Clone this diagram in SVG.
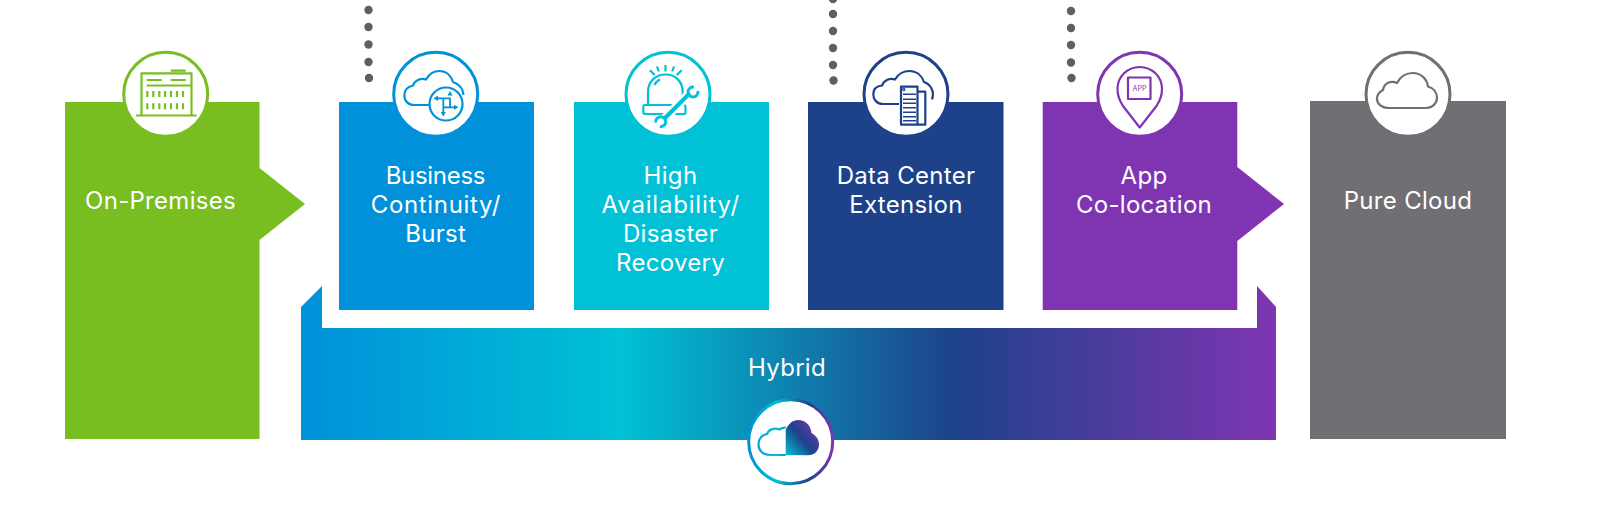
<svg xmlns="http://www.w3.org/2000/svg" width="1614" height="516" viewBox="0 0 1614 516">
<style>
.t{font-family:"Inter","Liberation Sans",sans-serif;font-size:24px;letter-spacing:.3px;fill:#fff;text-anchor:middle}
.c{fill:#fff;stroke-width:3}
.i{fill:none;stroke-width:2.2;stroke-linejoin:round}
.d{fill:#5f5f62}
</style>
<defs>
<linearGradient id="band" gradientUnits="userSpaceOnUse" x1="301" y1="0" x2="1276" y2="0">
<stop offset="0" stop-color="#0091da"/><stop offset=".33" stop-color="#00c1d5"/><stop offset=".67" stop-color="#1d428a"/><stop offset="1" stop-color="#7f35b2"/>
</linearGradient>
<linearGradient id="ring" gradientUnits="userSpaceOnUse" x1="748" y1="441" x2="834" y2="441">
<stop offset="0" stop-color="#0091da"/><stop offset=".33" stop-color="#00c1d5"/><stop offset=".7" stop-color="#1d428a"/><stop offset="1" stop-color="#7f35b2"/>
</linearGradient>
<linearGradient id="fillc" x1="0" y1="1" x2="1" y2="0.1">
<stop offset="0" stop-color="#00c1d5"/><stop offset=".5" stop-color="#1d428a"/><stop offset="1" stop-color="#7f35b2"/>
</linearGradient>
</defs>
<g id="connectors">
<g class="d"><circle cx="368.5" cy="10" r="4.2"/><circle cx="368.5" cy="27" r="4.2"/><circle cx="368.5" cy="44.5" r="4.2"/><circle cx="368.5" cy="62" r="4.2"/><circle cx="369" cy="78" r="4.2"/></g>
<g class="d"><circle cx="833" cy="-1" r="4.2"/><circle cx="833" cy="14" r="4.2"/><circle cx="833" cy="31" r="4.2"/><circle cx="833" cy="48" r="4.2"/><circle cx="833" cy="65" r="4.2"/><circle cx="833.5" cy="80.5" r="4.2"/></g>
<g class="d"><circle cx="1071" cy="11" r="4.2"/><circle cx="1071" cy="28" r="4.2"/><circle cx="1071" cy="45" r="4.2"/><circle cx="1071" cy="62.5" r="4.2"/><circle cx="1071.5" cy="78" r="4.2"/></g>
</g>
<g id="hybrid">
<path d="M301 307L322 286V328H1257V286L1276 307V440H301Z" fill="url(#band)"/>
<text class="t" x="787" y="376">Hybrid</text>
<circle cx="790.7" cy="441.7" r="42" stroke="url(#ring)" class="c"/>
<path d="M785.7 455H770C763 455 758.5 450.5 758.5 444.5C758.5 439 762 435 767 434C769 429 775 427.5 779.5 429.5C781.5 428 783.5 427.5 785.7 427.5" fill="none" stroke="url(#ring)" stroke-width="2.2"/>
<path d="M785.7 455V430C788 424 793 420 798 420C806 420 811 426 811.5 433C816 435.5 819 439.5 819 444.5C819 450.5 814.5 455.3 808 455.3Z" fill="url(#fillc)"/>
</g>
<g id="on-premises">
<path d="M65 102H259.5V168L305 204L259.5 240V439H65Z" fill="#78be20"/>
<circle cx="165.7" cy="94.3" r="42" stroke="#78be20" class="c"/>
<g class="i" stroke="#78be20">
<path d="M141.5 115V73.3H191.5V115M136 115.5H196.5M170.7 70.7H185.7M146.7 80H161.7M170.7 80H185.7M146.7 85.5H191"/>
<path d="M147.3 91V97M153.3 91V97M159.3 91V97M165 91V97M171 91V97M177 91V97M183 91V97M147.3 103.3V109.3M153.3 103.3V109.3M159.3 103.3V109.3M165 103.3V109.3M171 103.3V109.3M177 103.3V109.3M183 103.3V109.3"/>
</g>
<text class="t" x="160.5" y="209">On-Premises</text>
</g>
<g id="business-continuity">
<rect x="339" y="102" width="195" height="208" fill="#0091da"/>
<circle cx="435.7" cy="94.3" r="42" stroke="#0091da" class="c"/>
<g class="i" stroke="#0091da">
<path d="M430 105H414C408 105 404.3 100.5 404.3 95.5C404.3 90 408 86.5 413 85.5C415 80 421 77.5 426 79.5C429 74 434 71 439.5 71C446 71 451 75.5 453 82C459 84 463 88.5 463.5 95"/>
<circle cx="446" cy="104" r="16.5"/>
<path d="M436 98.3H450V108M443.3 98.3V113M443.3 107.300H456" stroke-width="1.8"/>
<path d="M433.5 98.3L438 95.5V101ZM450 91L447.5 95.5H452.5ZM443.3 116.500L440.8 112H445.8ZM458.5 107.3L454 104.8V109.8Z" fill="#0091da" stroke="none"/>
</g>
<text class="t" x="435.7" y="184" textLength="100">Business</text>
<text class="t" x="435.7" y="213" textLength="130">Continuity/</text>
<text class="t" x="435.700" y="242">Burst</text>
</g>
<g id="high-availability">
<rect x="574" y="102" width="195" height="208" fill="#00c1d5"/>
<circle cx="668" cy="94.3" r="42" stroke="#00c1d5" class="c"/>
<g class="i" stroke="#00c1d5">
<path d="M648 105V92C648 81 656 74.5 665.5 74.5C675 74.5 682.7 81 682.7 92V99"/>
<path d="M654.5 85C655.5 82.500 657.500 80.500 660 79.500M665.5 65V71.5M657 66.500L658.8 71.500M674 66.5L672.2 71.5M649.8 70.3L654.8 75M681.7 70.3L676.7 75"/>
<path d="M684 105H645Q643.3 105 643.3 107V112Q643.3 114 645 114H684Q685.5 114 685.5 112V107Q685.5 105 684 105Z"/>
</g>
<path d="M664 119L691 92" fill="none" stroke="#fff" stroke-width="9"/>
<g fill="none" stroke="#00c1d5">
<path d="M664 119L690 93" stroke-width="4"/>
<path d="M693.9 87.1A5 5 0 1 0 697.9 91.1" stroke-width="3"/>
<path d="M659.8 126.6A5 5 0 1 0 655.8 122.6" stroke-width="3"/>
</g>
<text class="t" x="670.5" y="184">High</text>
<text class="t" x="670.5" y="213" textLength="138">Availability/</text>
<text class="t" x="670.5" y="242">Disaster</text>
<text class="t" x="670.5" y="271">Recovery</text>
</g>
<g id="data-center">
<rect x="808" y="102" width="195.5" height="208" fill="#1d428a"/>
<circle cx="906" cy="94.3" r="42" stroke="#1d428a" class="c"/>
<g class="i" stroke="#1d428a">
<path d="M899 104H883C877 104 873.3 99.5 873.3 94.5C873.3 89 877 86 882 85.5C884 80 890 77.5 895 79.5C898 74 904 71 909.5 71C917 71 922 76 924 82C930 84 935 91 932 99.5"/>
<rect x="901" y="86.7" width="16.5" height="38"/>
<path d="M917.5 91.7H925.3V124.7H917.5"/>
<path d="M903 94.3H916M903 99.3H916M903 103.3H916M903 107.7H916M903 112.3H916M903 116.7H916M903 120.7H916" stroke-width="1.5"/>
<circle cx="903.8" cy="89.5" r=".6"/>
</g>
<text class="t" x="906" y="184">Data Center</text>
<text class="t" x="906" y="213">Extension</text>
</g>
<g id="app-co-location">
<path d="M1042.7 102H1237.3V167L1284 204L1237.3 241V310H1042.7Z" fill="#7f35b2"/>
<circle cx="1139.7" cy="94.3" r="42" stroke="#7f35b2" class="c"/>
<g class="i" stroke="#7f35b2">
<path d="M1139.7 127.5L1123 106C1119 100 1117.5 95 1117.5 89C1117.5 76.5 1127.5 67 1139.7 67C1152 67 1162 76.5 1162 89C1162 95 1160.5 100 1156.5 106Z"/>
<rect x="1128" y="77.5" width="22.5" height="21.5"/>
</g>
<text x="1139.5" y="91" font-family="Inter,'Liberation Sans',sans-serif" font-size="7" text-anchor="middle" fill="#7f35b2">APP</text>
<text class="t" x="1144" y="184">App</text>
<text class="t" x="1144" y="213">Co-location</text>
</g>
<g id="pure-cloud">
<rect x="1310" y="101" width="196" height="338" fill="#707074"/>
<circle cx="1408" cy="94.3" r="42" stroke="#707074" class="c"/>
<path class="i" stroke="#707074" d="M1389 108H1426C1433 108 1437 103 1437 97.5C1437 92 1433 88 1428 86.5C1427 78 1420 73 1413 73C1406 73 1400 77 1397 83C1391 80 1384 83 1383 90C1379 92 1377 95 1377 99C1377 104 1382 108 1389 108Z"/>
<text class="t" x="1408" y="209">Pure Cloud</text>
</g>
</svg>
